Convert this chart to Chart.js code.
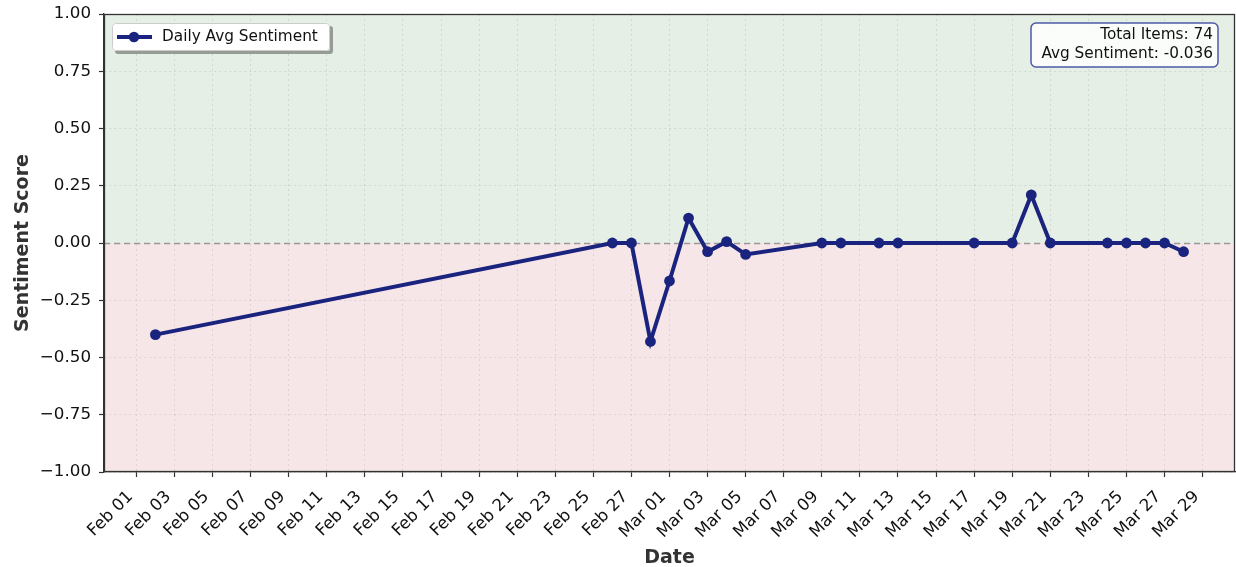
<!DOCTYPE html>
<html>
<head>
<meta charset="utf-8">
<script src="https://cdn.jsdelivr.net/npm/chart.js@4.4.1/dist/chart.umd.min.js"></script>
<style>
html,body{margin:0;padding:0;background:#fff;}
#wrap{width:1236px;height:567px;}
</style>
</head>
<body>
<div id="wrap"><canvas id="c" width="1236" height="567"></canvas></div>
<script>
const dates = ['2025-02-02','2025-02-26','2025-02-27','2025-02-28','2025-03-01','2025-03-02','2025-03-03','2025-03-04','2025-03-05','2025-03-09','2025-03-10','2025-03-12','2025-03-13','2025-03-17','2025-03-19','2025-03-20','2025-03-21','2025-03-24','2025-03-25','2025-03-26','2025-03-27','2025-03-28'];
const sentiment = [-0.40, 0.0, 0.0, -0.43, -0.166, 0.109, -0.038, 0.006, -0.05, 0.0, 0.0, 0.0, 0.0, 0.0, 0.0, 0.21, 0.0, 0.0, 0.0, 0.0, 0.0, -0.038];
const xTickDates = ['2025-02-01','2025-02-03','2025-02-05','2025-02-07','2025-02-09','2025-02-11','2025-02-13','2025-02-15','2025-02-17','2025-02-19','2025-02-21','2025-02-23','2025-02-25','2025-02-27','2025-03-01','2025-03-03','2025-03-05','2025-03-07','2025-03-09','2025-03-11','2025-03-13','2025-03-15','2025-03-17','2025-03-19','2025-03-21','2025-03-23','2025-03-25','2025-03-27','2025-03-29'];
const yTicks = [-1.0, -0.75, -0.5, -0.25, 0.0, 0.25, 0.5, 0.75, 1.0];
const infoLines = ['Total Items: 74', 'Avg Sentiment: -0.036'];
const seriesLabel = 'Daily Avg Sentiment';

const MONTHS = ['Jan','Feb','Mar','Apr','May','Jun','Jul','Aug','Sep','Oct','Nov','Dec'];
const base = Date.UTC(2025,1,1);
const dayOf = s => { const p = s.split('-').map(Number); return (Date.UTC(p[0],p[1]-1,p[2]) - base)/86400000; };
const fmtDay = v => { const d = new Date(base + Math.round(v)*86400000); return MONTHS[d.getUTCMonth()] + ' ' + String(d.getUTCDate()).padStart(2,'0'); };

const pts = dates.map((d,i)=>({x: dayOf(d), y: sentiment[i]}));
const xs = pts.map(p=>p.x);
const xr = Math.max(...xs) - Math.min(...xs);
const xMin = Math.min(...xs) - 0.05*xr, xMax = Math.max(...xs) + 0.05*xr;

const LINE = '#1a237e';
const FONT = "'DejaVu Sans', sans-serif";

const bgPlugin = {
  id: 'bg',
  beforeDraw(chart){
    const {ctx, chartArea: a, scales:{y}} = chart;
    const y0 = y.getPixelForValue(0);
    ctx.save();
    ctx.fillStyle = '#e5efe5';
    ctx.fillRect(a.left, a.top, a.right-a.left, y0-a.top);
    ctx.fillStyle = '#f7e6e8';
    ctx.fillRect(a.left, y0, a.right-a.left, a.bottom-y0);
    ctx.restore();
  },
  beforeDatasetsDraw(chart){
    const {ctx, chartArea: a, scales:{y}} = chart;
    const y0 = Math.round(y.getPixelForValue(0))+0.5;
    ctx.save();
    ctx.strokeStyle = 'rgba(128,128,128,0.75)';
    ctx.lineWidth = 1.5;
    ctx.setLineDash([6,4]);
    ctx.beginPath(); ctx.moveTo(a.left, y0); ctx.lineTo(a.right, y0); ctx.stroke();
    ctx.restore();
  },
  afterDraw(chart){
    const {ctx, chartArea: a} = chart;
    ctx.save();
    ctx.strokeStyle = '#333';
    ctx.lineWidth = 1.3;
    ctx.strokeRect(a.left+0.5, a.top+0.5, a.right-a.left-1, a.bottom-a.top-1);
    // legend
    const lx = a.left+8, ly = a.top+9, lw = 218, lh = 28;
    ctx.fillStyle = 'rgba(0,0,0,0.35)';
    roundRect(ctx, lx+3, ly+3, lw, lh, 3); ctx.fill();
    ctx.fillStyle = '#ffffff';
    roundRect(ctx, lx, ly, lw, lh, 3); ctx.fill();
    ctx.strokeStyle = '#cccccc'; ctx.lineWidth = 1;
    roundRect(ctx, lx+0.5, ly+0.5, lw-1, lh-1, 3); ctx.stroke();
    const cy = ly + lh/2;
    ctx.strokeStyle = LINE; ctx.lineWidth = 4;
    ctx.beginPath(); ctx.moveTo(lx+5, cy); ctx.lineTo(lx+40, cy); ctx.stroke();
    ctx.fillStyle = LINE;
    ctx.beginPath(); ctx.arc(lx+22, cy, 5.3, 0, Math.PI*2); ctx.fill();
    ctx.fillStyle = '#111';
    ctx.font = "15.3px " + FONT;
    ctx.textBaseline = 'middle'; ctx.textAlign = 'left';
    ctx.fillText(seriesLabel, lx+50, cy+0.5);
    // info box
    const bw = 187, bh = 44, bx = a.right-17-bw, by = a.top+9;
    ctx.fillStyle = 'rgba(255,255,255,0.85)';
    roundRect(ctx, bx, by, bw, bh, 5); ctx.fill();
    ctx.strokeStyle = '#4e59a6'; ctx.lineWidth = 1.5;
    roundRect(ctx, bx, by, bw, bh, 5); ctx.stroke();
    ctx.fillStyle = '#111';
    ctx.textAlign = 'right';
    ctx.fillText(infoLines[0], bx+bw-5, by+12);
    ctx.fillText(infoLines[1], bx+bw-5, by+31);
    ctx.restore();
  }
};
function roundRect(ctx,x,y,w,h,r){
  ctx.beginPath();
  ctx.moveTo(x+r,y); ctx.lineTo(x+w-r,y); ctx.arcTo(x+w,y,x+w,y+r,r);
  ctx.lineTo(x+w,y+h-r); ctx.arcTo(x+w,y+h,x+w-r,y+h,r);
  ctx.lineTo(x+r,y+h); ctx.arcTo(x,y+h,x,y+h-r,r);
  ctx.lineTo(x,y+r); ctx.arcTo(x,y,x+r,y,r); ctx.closePath();
}

new Chart(document.getElementById('c'), {
  type: 'line',
  data: { datasets: [{
    label: seriesLabel,
    data: pts,
    borderColor: LINE, backgroundColor: LINE,
    borderWidth: 4, pointRadius: 5.4, pointHoverRadius: 5.4,
    pointBackgroundColor: LINE, pointBorderColor: LINE, pointBorderWidth: 0,
    tension: 0, fill: false
  }]},
  options: {
    responsive: false, animation: false, devicePixelRatio: 1,
    layout: { autoPadding: false, padding: { top: 14, right: 1, left: 0, bottom: 0 } },
    plugins: { legend: { display: false }, tooltip: { enabled: false } },
    scales: {
      x: {
        type: 'linear', min: xMin, max: xMax,
        afterBuildTicks: s => { s.ticks = xTickDates.map(d=>({value: dayOf(d)})); },
        afterFit: s => { s.height = 95; s.paddingLeft = 0; s.paddingRight = 0; },
        ticks: { autoSkip: false, maxRotation: 45, minRotation: 45, padding: 10, labelOffset: -6,
          color: '#111', font: { family: FONT, size: 16.7 },
          callback: v => fmtDay(v) },
        grid: { color: 'rgba(0,0,0,0.09)', lineWidth: 1, tickColor: '#333', tickLength: 5, tickWidth: 1.2, tickBorderDash: [] },
        border: { display: true, color: '#333', width: 1.3, dash: [2,3] },
        title: { display: true, text: 'Date', color: '#333', font: { family: FONT, size: 19, weight: 'bold' }, padding: { top: 0, bottom: -2 } }
      },
      y: {
        type: 'linear', min: -1, max: 1,
        afterBuildTicks: s => { s.ticks = yTicks.map(v=>({value:v})); },
        afterFit: s => { s.width = 104; s.paddingTop = 0; s.paddingBottom = 0; },
        ticks: { padding: 8, color: '#111', font: { family: FONT, size: 16.7 },
          callback: v => (v < 0 ? '\u2212' : '') + Math.abs(v).toFixed(2) },
        grid: { color: 'rgba(0,0,0,0.09)', lineWidth: 1, tickColor: '#333', tickLength: 5, tickWidth: 1.2, tickBorderDash: [] },
        border: { display: true, color: '#333', width: 1.3, dash: [2,3] },
        title: { display: true, text: 'Sentiment Score', color: '#333', font: { family: FONT, size: 19, weight: 'bold' }, padding: { top: 12, bottom: 0 } }
      }
    }
  },
  plugins: [bgPlugin]
});
</script>
</body>
</html>
